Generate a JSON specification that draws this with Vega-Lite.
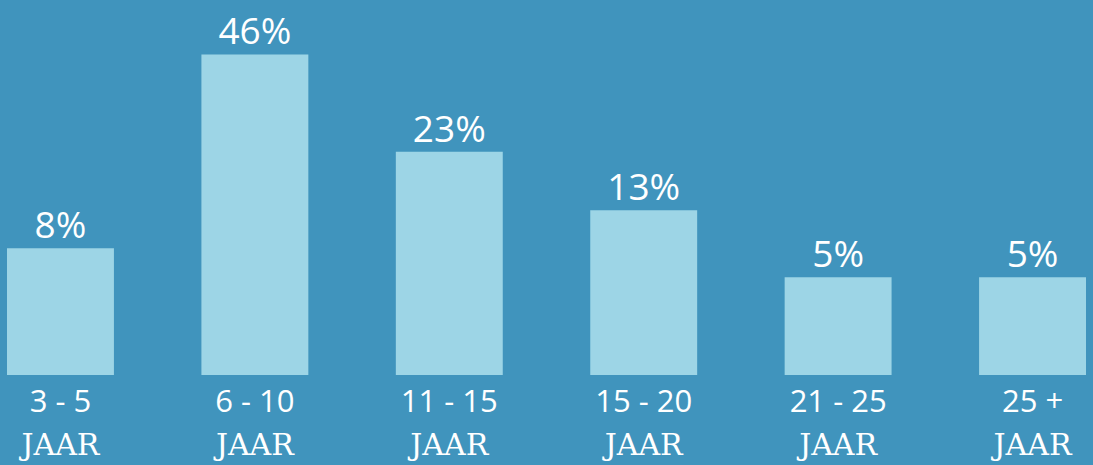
{
  "$schema": "https://vega.github.io/schema/vega-lite/v6.json",
  "width": 1093,
  "height": 375,
  "autosize": "none",
  "padding": {"left": 0, "top": 0, "right": 0, "bottom": 90},
  "background": "#4094BD",
  "config": {"view": {"stroke": null}},
  "data": {
    "values": [
      {"periode": "3 - 5", "eenheid": "JAAR", "aandeel": 8, "label": "8%"},
      {"periode": "6 - 10", "eenheid": "JAAR", "aandeel": 46, "label": "46%"},
      {"periode": "11 - 15", "eenheid": "JAAR", "aandeel": 23, "label": "23%"},
      {"periode": "15 - 20", "eenheid": "JAAR", "aandeel": 13, "label": "13%"},
      {"periode": "21 - 25", "eenheid": "JAAR", "aandeel": 5, "label": "5%"},
      {"periode": "25 +", "eenheid": "JAAR", "aandeel": 5, "label": "5%"}
    ]
  },
  "encoding": {
    "x": {
      "field": "periode",
      "type": "nominal",
      "sort": null,
      "scale": {"paddingInner": 0.45, "paddingOuter": 0.036},
      "axis": {
        "title": null,
        "domain": false,
        "ticks": false,
        "tickSize": 0,
        "labelPadding": 12,
        "labelAngle": 0,
        "labelFont": "Open Sans",
        "labelFontSize": 31,
        "labelColor": "#ffffff",
        "labelOverlap": false
      }
    }
  },
  "layer": [
    {
      "mark": {"type": "bar", "color": "#9DD5E6"},
      "encoding": {
        "y": {
          "field": "aandeel",
          "type": "quantitative",
          "scale": {"type": "sqrt", "domain": [0.06, 62.3], "zero": false, "nice": false},
          "axis": null
        },
        "y2": {"datum": 0.06}
      }
    },
    {
      "mark": {"type": "text", "baseline": "alphabetic", "dy": -10, "font": "Open Sans", "fontSize": 37, "color": "#ffffff"},
      "encoding": {
        "y": {"field": "aandeel", "type": "quantitative"},
        "text": {"field": "label"}
      }
    },
    {
      "mark": {"type": "text", "baseline": "alphabetic", "dy": 80, "font": "DejaVu Serif", "fontSize": 30, "color": "#ffffff"},
      "encoding": {
        "y": {"datum": 0.06},
        "text": {"field": "eenheid"}
      }
    }
  ]
}
